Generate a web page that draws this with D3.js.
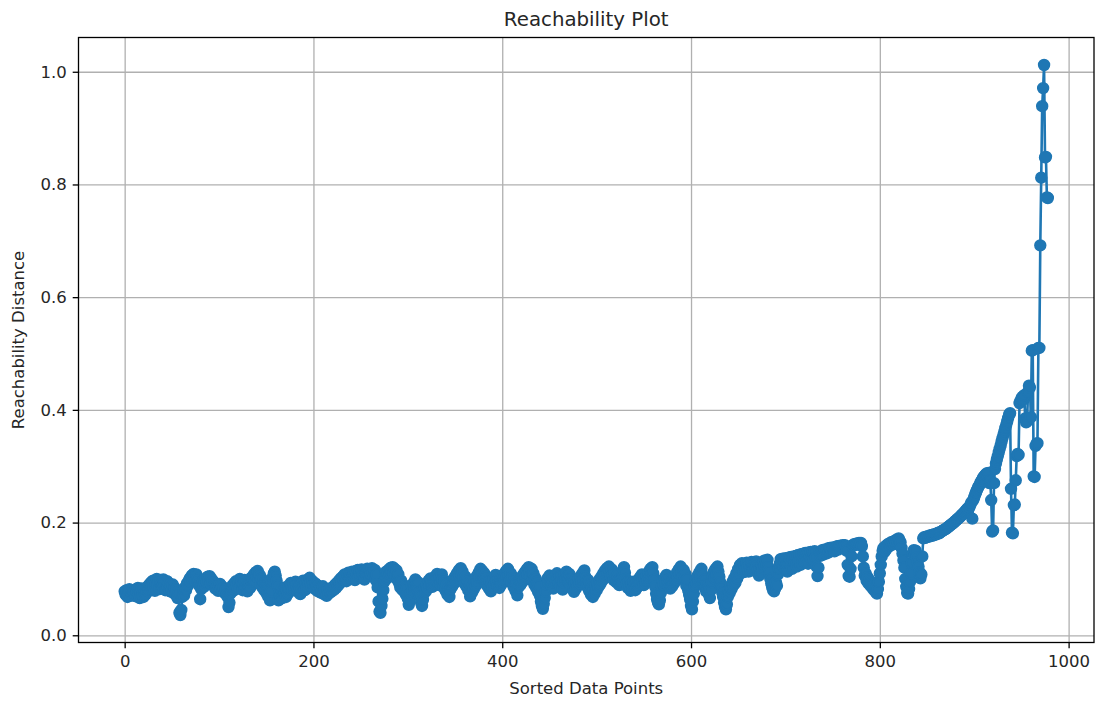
<!DOCTYPE html>
<html>
<head>
<meta charset="utf-8">
<script src="https://cdn.jsdelivr.net/npm/d3@7"></script>
<style>
  html, body { margin: 0; padding: 0; background: #ffffff; }
  svg { display: block; font-family: "DejaVu Sans", sans-serif; }
</style>
</head>
<body>
<svg id="chart" width="1098" height="702"></svg>
<script>
// Reachability distances in OPTICS ordering (one value per sorted data point)
const reachability = [
  0.078, 0.072, 0.080, 0.068, 0.075, 0.082, 0.070, 0.076, 0.079, 0.071,
  0.074, 0.081, 0.069, 0.077, 0.084, 0.072, 0.066, 0.078, 0.083, 0.070,
  0.068, 0.075, 0.072, 0.080, 0.086, 0.078, 0.090, 0.083, 0.094, 0.088,
  0.097, 0.085, 0.079, 0.092, 0.100, 0.088, 0.095, 0.082, 0.098, 0.091,
  0.087, 0.099, 0.093, 0.080, 0.089, 0.096, 0.084, 0.092, 0.078, 0.086,
  0.081, 0.090, 0.075, 0.084, 0.072, 0.079, 0.066, 0.074, 0.040, 0.036,
  0.045, 0.068, 0.078, 0.071, 0.085, 0.080, 0.092, 0.088, 0.097, 0.101,
  0.095, 0.106, 0.099, 0.109, 0.103, 0.096, 0.108, 0.100, 0.094, 0.088,
  0.064, 0.082, 0.090, 0.097, 0.086, 0.093, 0.101, 0.095, 0.104, 0.098,
  0.105, 0.092, 0.100, 0.096, 0.088, 0.094, 0.083, 0.090, 0.086, 0.079,
  0.085, 0.091, 0.082, 0.087, 0.078, 0.084, 0.075, 0.081, 0.072, 0.068,
  0.050, 0.058, 0.074, 0.081, 0.088, 0.079, 0.092, 0.085, 0.096, 0.089,
  0.083, 0.094, 0.100, 0.087, 0.095, 0.080, 0.091, 0.098, 0.086, 0.093,
  0.078, 0.089, 0.097, 0.084, 0.102, 0.092, 0.099, 0.108, 0.095, 0.112,
  0.104, 0.114, 0.098, 0.107, 0.090, 0.101, 0.085, 0.096, 0.080, 0.092,
  0.075, 0.088, 0.069, 0.083, 0.062, 0.078, 0.094, 0.103, 0.110, 0.113,
  0.106, 0.097, 0.088, 0.062, 0.075, 0.070, 0.081, 0.066, 0.077, 0.072,
  0.085, 0.068, 0.079, 0.074, 0.088, 0.081, 0.093, 0.086, 0.080, 0.091,
  0.084, 0.095, 0.089, 0.078, 0.092, 0.086, 0.073, 0.090, 0.082, 0.097,
  0.088, 0.080, 0.094, 0.085, 0.099, 0.091, 0.102, 0.094, 0.087, 0.096,
  0.090, 0.083, 0.092, 0.086, 0.079, 0.088, 0.082, 0.076, 0.085, 0.079,
  0.087, 0.073, 0.081, 0.077, 0.070, 0.079, 0.074, 0.082, 0.076, 0.084,
  0.079, 0.086, 0.081, 0.090, 0.084, 0.093, 0.088, 0.097, 0.092, 0.101,
  0.096, 0.104, 0.099, 0.108, 0.102, 0.096, 0.107, 0.111, 0.104, 0.109,
  0.100, 0.113, 0.106, 0.110, 0.098, 0.114, 0.108, 0.116, 0.103, 0.112,
  0.105, 0.117, 0.110, 0.114, 0.099, 0.115, 0.108, 0.118, 0.112, 0.106,
  0.115, 0.109, 0.119, 0.111, 0.104, 0.116, 0.098, 0.108, 0.085, 0.060,
  0.042, 0.040, 0.052, 0.065, 0.080, 0.095, 0.106, 0.113, 0.101, 0.109,
  0.117, 0.108, 0.120, 0.114, 0.121, 0.110, 0.118, 0.105, 0.115, 0.098,
  0.108, 0.092, 0.085, 0.097, 0.081, 0.090, 0.078, 0.087, 0.072, 0.083,
  0.065, 0.054, 0.061, 0.075, 0.088, 0.080, 0.093, 0.085, 0.099, 0.090,
  0.082, 0.094, 0.076, 0.069, 0.058, 0.052, 0.063, 0.074, 0.084, 0.078,
  0.090, 0.083, 0.097, 0.088, 0.101, 0.093, 0.086, 0.098, 0.091, 0.104,
  0.096, 0.109, 0.100, 0.089, 0.103, 0.094, 0.108, 0.099, 0.085, 0.095,
  0.079, 0.090, 0.072, 0.084, 0.068, 0.081, 0.093, 0.087, 0.099, 0.092,
  0.104, 0.097, 0.110, 0.101, 0.115, 0.106, 0.119, 0.108, 0.113, 0.100,
  0.092, 0.104, 0.087, 0.098, 0.080, 0.093, 0.069, 0.085, 0.076, 0.090,
  0.082, 0.097, 0.088, 0.105, 0.094, 0.111, 0.102, 0.118, 0.107, 0.114,
  0.099, 0.110, 0.093, 0.104, 0.088, 0.098, 0.083, 0.095, 0.078, 0.091,
  0.085, 0.100, 0.092, 0.107, 0.096, 0.088, 0.099, 0.084, 0.094, 0.090,
  0.102, 0.095, 0.109, 0.098, 0.114, 0.103, 0.118, 0.106, 0.097, 0.110,
  0.093, 0.104, 0.086, 0.099, 0.079, 0.092, 0.071, 0.085, 0.096, 0.089,
  0.101, 0.094, 0.107, 0.098, 0.112, 0.103, 0.117, 0.108, 0.121, 0.113,
  0.105, 0.118, 0.097, 0.110, 0.090, 0.102, 0.084, 0.095, 0.077, 0.088,
  0.070, 0.060, 0.052, 0.047, 0.056, 0.066, 0.078, 0.090, 0.101, 0.094,
  0.106, 0.097, 0.088, 0.099, 0.083, 0.093, 0.104, 0.096, 0.110, 0.101,
  0.092, 0.105, 0.087, 0.098, 0.081, 0.094, 0.108, 0.099, 0.113, 0.104,
  0.096, 0.109, 0.090, 0.102, 0.084, 0.097, 0.077, 0.091, 0.083, 0.095,
  0.088, 0.100, 0.092, 0.105, 0.095, 0.110, 0.099, 0.115, 0.104, 0.094,
  0.086, 0.098, 0.079, 0.091, 0.072, 0.085, 0.068, 0.081, 0.074, 0.088,
  0.080, 0.093, 0.086, 0.099, 0.091, 0.104, 0.097, 0.110, 0.101, 0.115,
  0.107, 0.119, 0.110, 0.122, 0.113, 0.104, 0.117, 0.108, 0.098, 0.111,
  0.102, 0.094, 0.107, 0.097, 0.089, 0.101, 0.093, 0.112, 0.104, 0.121,
  0.111, 0.100, 0.092, 0.084, 0.096, 0.087, 0.079, 0.091, 0.083, 0.095,
  0.088, 0.080, 0.092, 0.085, 0.098, 0.090, 0.103, 0.094, 0.108, 0.099,
  0.089, 0.101, 0.094, 0.106, 0.097, 0.112, 0.102, 0.118, 0.107, 0.121,
  0.110, 0.098, 0.086, 0.074, 0.064, 0.058, 0.055, 0.062, 0.075, 0.088,
  0.097, 0.090, 0.102, 0.094, 0.107, 0.098, 0.089, 0.100, 0.083, 0.095,
  0.087, 0.099, 0.092, 0.105, 0.097, 0.111, 0.103, 0.117, 0.108, 0.122,
  0.113, 0.104, 0.116, 0.098, 0.109, 0.088, 0.100, 0.080, 0.072, 0.064,
  0.052, 0.046, 0.060, 0.074, 0.087, 0.099, 0.092, 0.106, 0.097, 0.112,
  0.103, 0.118, 0.108, 0.095, 0.086, 0.099, 0.078, 0.091, 0.083, 0.072,
  0.066, 0.080, 0.094, 0.105, 0.112, 0.101, 0.118, 0.108, 0.122, 0.113,
  0.104, 0.094, 0.084, 0.076, 0.068, 0.058, 0.050, 0.046, 0.055, 0.068,
  0.080, 0.075, 0.088, 0.082, 0.095, 0.089, 0.102, 0.093, 0.110, 0.101,
  0.118, 0.108, 0.125, 0.115, 0.128, 0.119, 0.112, 0.124, 0.117, 0.129,
  0.121, 0.113, 0.126, 0.118, 0.130, 0.122, 0.115, 0.127, 0.120, 0.131,
  0.123, 0.116, 0.106, 0.118, 0.110, 0.125, 0.119, 0.132, 0.124, 0.133,
  0.126, 0.134, 0.121, 0.112, 0.100, 0.092, 0.085, 0.080, 0.078, 0.083,
  0.094, 0.088, 0.108, 0.118, 0.127, 0.135, 0.129, 0.136, 0.122, 0.131,
  0.137, 0.124, 0.113, 0.130, 0.138, 0.126, 0.139, 0.118, 0.135, 0.140,
  0.128, 0.141, 0.122, 0.142, 0.131, 0.143, 0.125, 0.144, 0.136, 0.145,
  0.130, 0.146, 0.138, 0.146, 0.127, 0.147, 0.140, 0.148, 0.133, 0.148,
  0.146, 0.149, 0.138, 0.122, 0.105, 0.120, 0.148, 0.141, 0.149, 0.151,
  0.143, 0.152, 0.151, 0.145, 0.152, 0.154, 0.147, 0.155, 0.154, 0.150,
  0.156, 0.155, 0.149, 0.156, 0.157, 0.158, 0.152, 0.158, 0.159, 0.158,
  0.159, 0.160, 0.159, 0.160, 0.158, 0.150, 0.125, 0.105, 0.104, 0.118,
  0.140, 0.158, 0.161, 0.160, 0.162, 0.161, 0.163, 0.162, 0.164, 0.163,
  0.164, 0.158, 0.140, 0.120, 0.106, 0.110, 0.097, 0.103, 0.092, 0.098,
  0.088, 0.094, 0.084, 0.090, 0.080, 0.086, 0.076, 0.074, 0.082, 0.095,
  0.110, 0.125, 0.140, 0.150, 0.155, 0.148, 0.158, 0.153, 0.161, 0.157,
  0.163, 0.159, 0.165, 0.161, 0.166, 0.162, 0.168, 0.164, 0.170, 0.166,
  0.172, 0.168, 0.165, 0.155, 0.145, 0.133, 0.120, 0.100, 0.086, 0.075,
  0.074, 0.082, 0.095, 0.110, 0.128, 0.145, 0.151, 0.142, 0.150, 0.138,
  0.130, 0.122, 0.112, 0.101, 0.108, 0.140, 0.172, 0.174, 0.173, 0.175,
  0.174, 0.176, 0.175, 0.177, 0.176, 0.178, 0.177, 0.179, 0.178, 0.180,
  0.179, 0.181, 0.182, 0.181, 0.183, 0.184, 0.185, 0.186, 0.187, 0.188,
  0.189, 0.190, 0.192, 0.193, 0.194, 0.196, 0.197, 0.198, 0.200, 0.201,
  0.203, 0.204, 0.206, 0.207, 0.209, 0.210, 0.212, 0.214, 0.215, 0.217,
  0.219, 0.221, 0.223, 0.225, 0.224, 0.228, 0.232, 0.236, 0.207, 0.240,
  0.245, 0.250, 0.254, 0.258, 0.262, 0.265, 0.268, 0.272, 0.275, 0.278,
  0.281, 0.283, 0.285, 0.287, 0.284, 0.288, 0.270, 0.275, 0.240, 0.184,
  0.186, 0.270, 0.295, 0.305, 0.312, 0.318, 0.325, 0.331, 0.337, 0.344,
  0.350, 0.356, 0.362, 0.368, 0.374, 0.380, 0.386, 0.392, 0.394, 0.260,
  0.182, 0.181, 0.231, 0.232, 0.275, 0.318, 0.322, 0.320, 0.412, 0.416,
  0.420, 0.423, 0.418, 0.426, 0.385, 0.378, 0.380, 0.432, 0.443, 0.440,
  0.387, 0.505, 0.506, 0.282, 0.281, 0.336, 0.340, 0.341, 0.510, 0.510,
  0.692, 0.812, 0.939, 0.971, 1.012, 0.848, 0.849, 0.777, 0.776
];

const xTickValues = [0, 200, 400, 600, 800, 1000];
const yTickValues = [0.0, 0.2, 0.4, 0.6, 0.8, 1.0];

const titleText = "Reachability Plot";
const xLabelText = "Sorted Data Points";
const yLabelText = "Reachability Distance";

// Layout of the axes box
const W = 1098, H = 702;
const plot = { left: 78.5, right: 1094, top: 37.5, bottom: 642.5 };
const lineColor = "#1f77b4";

const svg = d3.select("#chart");
svg.append("rect").attr("width", W).attr("height", H).attr("fill", "#ffffff");

const points = reachability.map((v, i) => ({ i, v }));

// Data limits padded by 5% on each side
const n = reachability.length;
const xPad = (n - 1) * 0.05;
const yMin = d3.min(reachability), yMax = d3.max(reachability);
const yPad = (yMax - yMin) * 0.05;

const x = d3.scaleLinear()
  .domain([-xPad, (n - 1) + xPad])
  .range([plot.left, plot.right]);
const y = d3.scaleLinear()
  .domain([yMin - yPad, yMax + yPad])
  .range([plot.bottom, plot.top]);

const plotW = plot.right - plot.left;
const plotH = plot.bottom - plot.top;

// Grid lines
const gridX = svg.append("g")
  .attr("transform", `translate(0,${plot.bottom})`)
  .call(d3.axisBottom(x).tickValues(xTickValues).tickSize(-plotH).tickFormat(""));
const gridY = svg.append("g")
  .attr("transform", `translate(${plot.left},0)`)
  .call(d3.axisLeft(y).tickValues(yTickValues).tickSize(-plotW).tickFormat(""));
[gridX, gridY].forEach(g => {
  g.select(".domain").remove();
  g.selectAll(".tick line").attr("stroke", "#b0b0b0").attr("stroke-width", 1.3);
});

// Series: connecting line plus circular markers
svg.append("clipPath").attr("id", "plot-clip")
  .append("rect")
  .attr("x", plot.left).attr("y", plot.top)
  .attr("width", plotW).attr("height", plotH);

const series = svg.append("g").attr("clip-path", "url(#plot-clip)");

series.append("path")
  .datum(points)
  .attr("fill", "none")
  .attr("stroke", lineColor)
  .attr("stroke-width", 2.6)
  .attr("stroke-linejoin", "round")
  .attr("d", d3.line().x(d => x(d.i)).y(d => y(d.v)));

series.selectAll("circle")
  .data(points)
  .join("circle")
  .attr("cx", d => x(d.i))
  .attr("cy", d => y(d.v))
  .attr("r", 5.4)
  .attr("fill", lineColor)
  .attr("stroke", lineColor)
  .attr("stroke-width", 1.6);

// Axes box
svg.append("rect")
  .attr("x", plot.left).attr("y", plot.top)
  .attr("width", plotW).attr("height", plotH)
  .attr("fill", "none")
  .attr("stroke", "#000000")
  .attr("stroke-width", 1.3);

// Tick marks and labels
const axisX = svg.append("g")
  .attr("transform", `translate(0,${plot.bottom})`)
  .call(d3.axisBottom(x).tickValues(xTickValues).tickSize(5.8).tickPadding(7).tickFormat(d3.format("d")));
const axisY = svg.append("g")
  .attr("transform", `translate(${plot.left},0)`)
  .call(d3.axisLeft(y).tickValues(yTickValues).tickSize(5.8).tickPadding(6).tickFormat(d3.format(".1f")));
[axisX, axisY].forEach(g => {
  g.select(".domain").remove();
  g.selectAll(".tick line").attr("stroke", "#000000").attr("stroke-width", 1.3);
  g.selectAll(".tick text")
    .attr("fill", "#262626")
    .style("font-family", "'DejaVu Sans', sans-serif")
    .style("font-size", "16.5px");
});

// Title and axis labels
const cx = (plot.left + plot.right) / 2;
svg.append("text")
  .attr("x", cx).attr("y", 26)
  .attr("text-anchor", "middle")
  .attr("fill", "#262626")
  .style("font-size", "19.8px")
  .text(titleText);

svg.append("text")
  .attr("x", cx).attr("y", 694)
  .attr("text-anchor", "middle")
  .attr("fill", "#262626")
  .style("font-size", "16.5px")
  .text(xLabelText);

svg.append("text")
  .attr("transform", `translate(24,${(plot.top + plot.bottom) / 2}) rotate(-90)`)
  .attr("text-anchor", "middle")
  .attr("fill", "#262626")
  .style("font-size", "16.5px")
  .text(yLabelText);
</script>
</body>
</html>
